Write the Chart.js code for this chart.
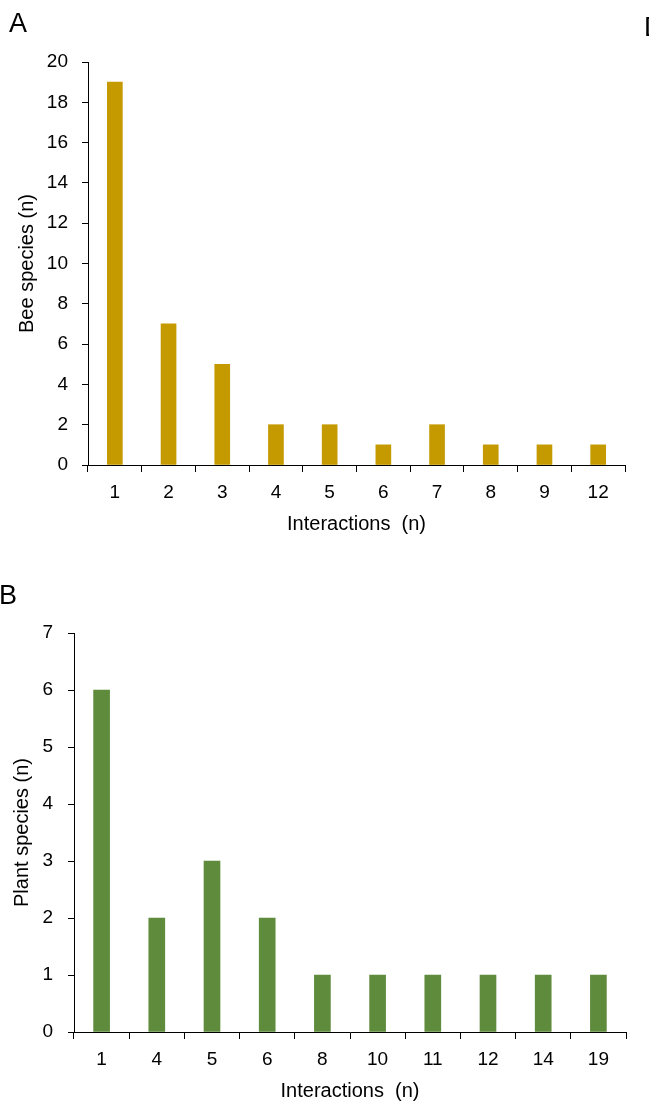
<!DOCTYPE html>
<html>
<head>
<meta charset="utf-8">
<script src="https://cdn.jsdelivr.net/npm/chart.js@4/dist/chart.umd.min.js"></script>
<style>
  html, body { margin: 0; padding: 0; background: #fff; width: 649px; height: 1104px; overflow: hidden; position: relative;
    font-family: "Liberation Sans", Arial, sans-serif; }
  .panel { position: absolute; font-size: 27px; line-height: 27px; color: #000; }
  #wrapA { position: absolute; left: 0; top: 0; width: 649px; height: 550px; }
  #wrapB { position: absolute; left: 0; top: 560px; width: 649px; height: 544px; }
</style>
</head>
<body>
<div id="wrapA"><canvas id="chartA" width="649" height="550"></canvas></div>
<div id="wrapB"><canvas id="chartB" width="649" height="544"></canvas></div>
<div class="panel" style="left:9px;top:10px">A</div>
<div class="panel" style="left:-1px;top:582px">B</div>
<div class="panel" style="left:644px;top:14px">D</div>
<script>
// Panel A: bee species by number of interactions
const beeInteractions = ['1', '2', '3', '4', '5', '6', '7', '8', '9', '12'];
const beeSpecies = [19, 7, 5, 2, 2, 1, 2, 1, 1, 1];

// Panel B: plant species by number of interactions
const plantInteractions = ['1', '4', '5', '6', '8', '10', '11', '12', '14', '19'];
const plantSpecies = [6, 2, 3, 2, 1, 1, 1, 1, 1, 1];

const FONT = '"Liberation Sans", Arial, sans-serif';

function interactionChart(id, labels, values, cfg) {
  return new Chart(document.getElementById(id), {
    type: 'bar',
    data: {
      labels: labels,
      datasets: [{
        data: values,
        backgroundColor: cfg.color,
        borderWidth: 0,
        barThickness: cfg.barThickness
      }]
    },
    options: {
      responsive: false,
      animation: false,
      devicePixelRatio: 1,
      layout: { padding: { top: cfg.padTop, right: cfg.padRight, left: 0, bottom: 0 } },
      plugins: { legend: { display: false }, tooltip: { enabled: false } },
      scales: {
        x: {
          offset: true,
          grid: { offset: true, display: true, drawOnChartArea: false, drawTicks: true, tickLength: 7, color: '#000', lineWidth: 1 },
          border: { display: true, color: '#000', width: 1 },
          ticks: { padding: 9, color: '#000', font: { size: 19, family: FONT }, maxRotation: 0, autoSkip: false },
          title: { display: true, text: 'Interactions  (n)', color: '#000', font: { size: 20, family: FONT },
                   padding: { top: 0, bottom: cfg.xTitlePad } },
          afterFit: function (scale) { scale.height = cfg.xAxisHeight; }
        },
        y: {
          min: 0,
          max: cfg.yMax,
          ticks: { stepSize: cfg.yStep, padding: cfg.yTickPad, color: '#000', font: { size: 19, family: FONT } },
          grid: { display: true, drawOnChartArea: false, drawTicks: true, tickLength: 6, color: '#000', lineWidth: 1 },
          border: { display: true, color: '#000', width: 1 },
          title: { display: true, text: cfg.yTitle, color: '#000', font: { size: 20, family: FONT },
                   padding: { top: cfg.yTitlePad, bottom: 0 } },
          afterFit: function (scale) { scale.width = cfg.yAxisWidth; }
        }
      }
    }
  });
}

interactionChart('chartA', beeInteractions, beeSpecies, {
  color: '#C49A00', barThickness: 15,
  padTop: 62, padRight: 24, yAxisWidth: 88, xAxisHeight: 85,
  yMax: 20, yStep: 2, yTickPad: 14, yTitlePad: 15, xTitlePad: 14,
  yTitle: 'Bee species (n)'
});

interactionChart('chartB', plantInteractions, plantSpecies, {
  color: '#5F8B3D', barThickness: 16,
  padTop: 73, padRight: 23, yAxisWidth: 74, xAxisHeight: 72,
  yMax: 7, yStep: 1, yTickPad: 15, yTitlePad: 10, xTitlePad: 1,
  yTitle: 'Plant species (n)'
});
</script>
</body>
</html>
